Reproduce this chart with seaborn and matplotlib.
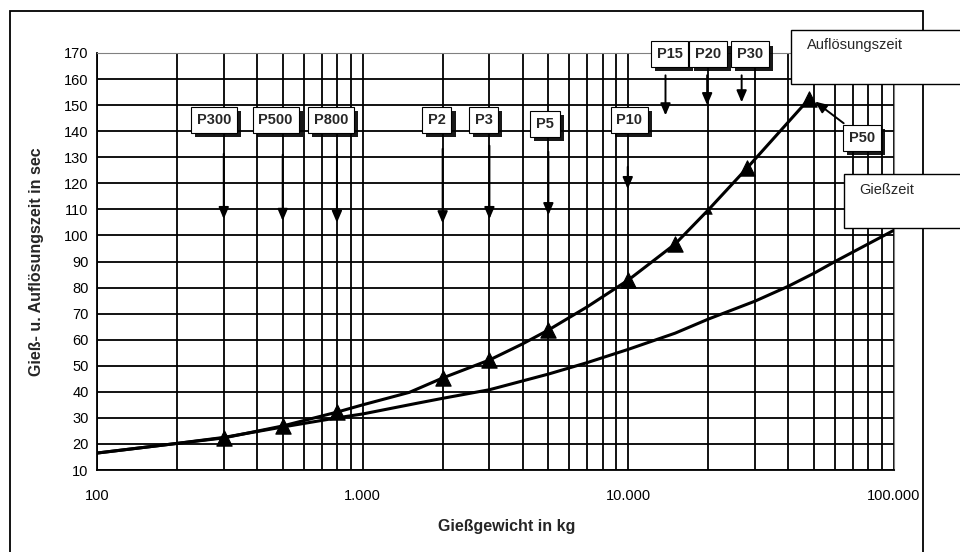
import matplotlib
matplotlib.use("Agg")
import matplotlib.pyplot as plt
import matplotlib.patheffects as pe
from matplotlib.patches import Rectangle
import seaborn as sns
import pandas as pd

# Auflösungszeit (with triangle markers at the measured points)
aufl_kg = [100, 200, 300, 500, 800, 1000, 1500, 2000, 3000, 4000, 5000, 7000, 10000, 15000, 20000, 28000, 48000]
aufl_sec = [16.5, 20.2, 22.3, 26.9, 32.2, 35.0, 39.8, 45.3, 52.2, 58.4, 63.7, 72.6, 82.9, 96.7, 109.8, 125.9, 152.5]
aufl_marker = ["none", "none", "big", "big", "big", "none", "none", "big", "big", "none", "big", "none",
               "big", "big", "small", "big", "big"]

# Gießzeit (no markers)
giess_kg = [100, 200, 300, 500, 800, 1000, 1600, 2000, 3000, 5000, 7000, 10000, 15000, 20000, 30000,
            40000, 50000, 60000, 100000]
giess_sec = [16.5, 20.2, 22.5, 26.5, 30.0, 31.5, 35.6, 37.5, 40.8, 46.8, 51.2, 56.3, 62.5, 67.9, 74.8,
             80.5, 85.5, 90.0, 102.0]

# Pressure labels: text, box position (kg, sec), arrow x, arrow start / end
p_labels = ["P300", "P500", "P800", "P2", "P3", "P5", "P10", "P15", "P20", "P30"]
p_box_kg = [275, 470, 760, 1900, 2850, 4850, 10100, 14300, 20000, 28700]
p_box_sec = [144.3, 144.3, 144.3, 144.3, 144.3, 142.8, 144.3, 169.5, 169.5, 169.5]
p_arrow_kg = [300, 500, 800, 2000, 3000, 5000, 9950, 13800, 19800, 26700]
p_arrow_from = [132.4, 132.0, 132.0, 134.3, 135.5, 133.2, 127.4, 162.5, 162.5, 162.5]
p_arrow_to = [105.2, 104.5, 103.8, 103.6, 105.2, 106.7, 116.7, 145.0, 148.9, 150.0]

df_a = pd.DataFrame({"kg": aufl_kg, "sec": aufl_sec, "m": aufl_marker})
df_g = pd.DataFrame({"kg": giess_kg, "sec": giess_sec})

sns.set_style("white")
plt.rcParams["font.family"] = ["Liberation Sans", "DejaVu Sans"]

fig = plt.figure(figsize=(9.6, 5.52), dpi=100)
ax = fig.add_axes([97 / 960, 1 - 470 / 552, 797 / 960, 417 / 552])

sns.lineplot(data=df_g, x="kg", y="sec", ax=ax, color="black", linewidth=2.2, zorder=3)
sns.lineplot(data=df_a, x="kg", y="sec", ax=ax, color="black", linewidth=2.2, zorder=3)
sns.scatterplot(data=df_a[df_a["m"] == "big"], x="kg", y="sec", ax=ax, marker="^", s=120,
                color="black", edgecolor="black", zorder=4)
sns.scatterplot(data=df_a[df_a["m"] == "small"], x="kg", y="sec", ax=ax,
                marker="^", s=30, color="black", edgecolor="black", zorder=4)

ax.set_xscale("log")
ax.set_xlim(100, 100000)
ax.set_ylim(10, 170)
ax.set_yticks(range(10, 171, 10))
ax.set_xticks([100, 1000, 10000, 100000])
ax.set_xticklabels(["100", "1.000", "10.000", "100.000"])
ax.minorticks_on()
ax.tick_params(axis="x", which="minor", length=0)
ax.tick_params(axis="x", which="major", length=4, width=1, pad=10, labelsize=10.5, colors="black")
ax.tick_params(axis="y", which="minor", left=False)
ax.tick_params(axis="y", which="major", length=4, width=1, pad=2, labelsize=10.5, colors="black")
ax.grid(True, which="major", color="black", linewidth=1.3)
ax.grid(True, which="minor", axis="x", color="black", linewidth=1.3)
for side in ["top", "right"]:
    ax.spines[side].set_color("#808080")
for side in ["left", "bottom"]:
    ax.spines[side].set_color("black")
    ax.spines[side].set_linewidth(1.3)

ax.set_xlabel("Gießgewicht in kg", fontsize=11.5, fontweight="bold")
ax.set_ylabel("Gieß- u. Auflösungszeit in sec", fontsize=11.5, fontweight="bold")
ax.xaxis.set_label_coords(0.514, -0.118)
ax.yaxis.set_label_coords(-0.066, 0.5)

shadow = [pe.withSimplePatchShadow(offset=(3, -3), shadow_rgbFace="black", alpha=0.9)]

def p_box(txt, x, y):
    t = ax.text(x, y, txt, ha="center", va="center", fontsize=10.5, fontweight="bold", zorder=6,
                bbox=dict(boxstyle="square,pad=0.4", fc="white", ec="black", lw=0.8))
    t.get_bbox_patch().set_path_effects(shadow)
    return t

arrow_style = dict(arrowstyle="-|>,head_length=0.7,head_width=0.3", color="black", lw=1.4)

for lab, bx, by, ax_kg, y0, y1 in zip(p_labels, p_box_kg, p_box_sec, p_arrow_kg, p_arrow_from, p_arrow_to):
    p_box(lab, bx, by)
    ax.annotate("", xy=(ax_kg, y1), xytext=(ax_kg, y0), zorder=5, arrowprops=arrow_style)

# P50 with diagonal arrow to last point
p_box("P50", 75700, 137.4)
ax.annotate("", xy=(49500, 152.0), xytext=(65900, 142.4), zorder=5, arrowprops=arrow_style)

# outer frame
fig.patches.append(Rectangle((10 / 960, -0.02), 913 / 960, 1 - 11 / 552 + 0.02,
                             transform=fig.transFigure, fill=False, ec="black", lw=1.3))

# legend-like label boxes
fig.patches.append(Rectangle((791 / 960, 1 - 84 / 552), 0.3, 54 / 552, transform=fig.transFigure,
                             fc="white", ec="black", lw=1, zorder=10))
fig.text(807 / 960, 1 - 45 / 552, "Auflösungszeit", fontsize=10.5, va="center", ha="left", zorder=11)
fig.patches.append(Rectangle((844 / 960, 1 - 228 / 552), 0.3, 54 / 552, transform=fig.transFigure,
                             fc="white", ec="black", lw=1, zorder=10))
fig.text(859 / 960, 1 - 190 / 552, "Gießzeit", fontsize=10.5, va="center", ha="left", zorder=11)

fig.savefig("out.png", dpi=100)
